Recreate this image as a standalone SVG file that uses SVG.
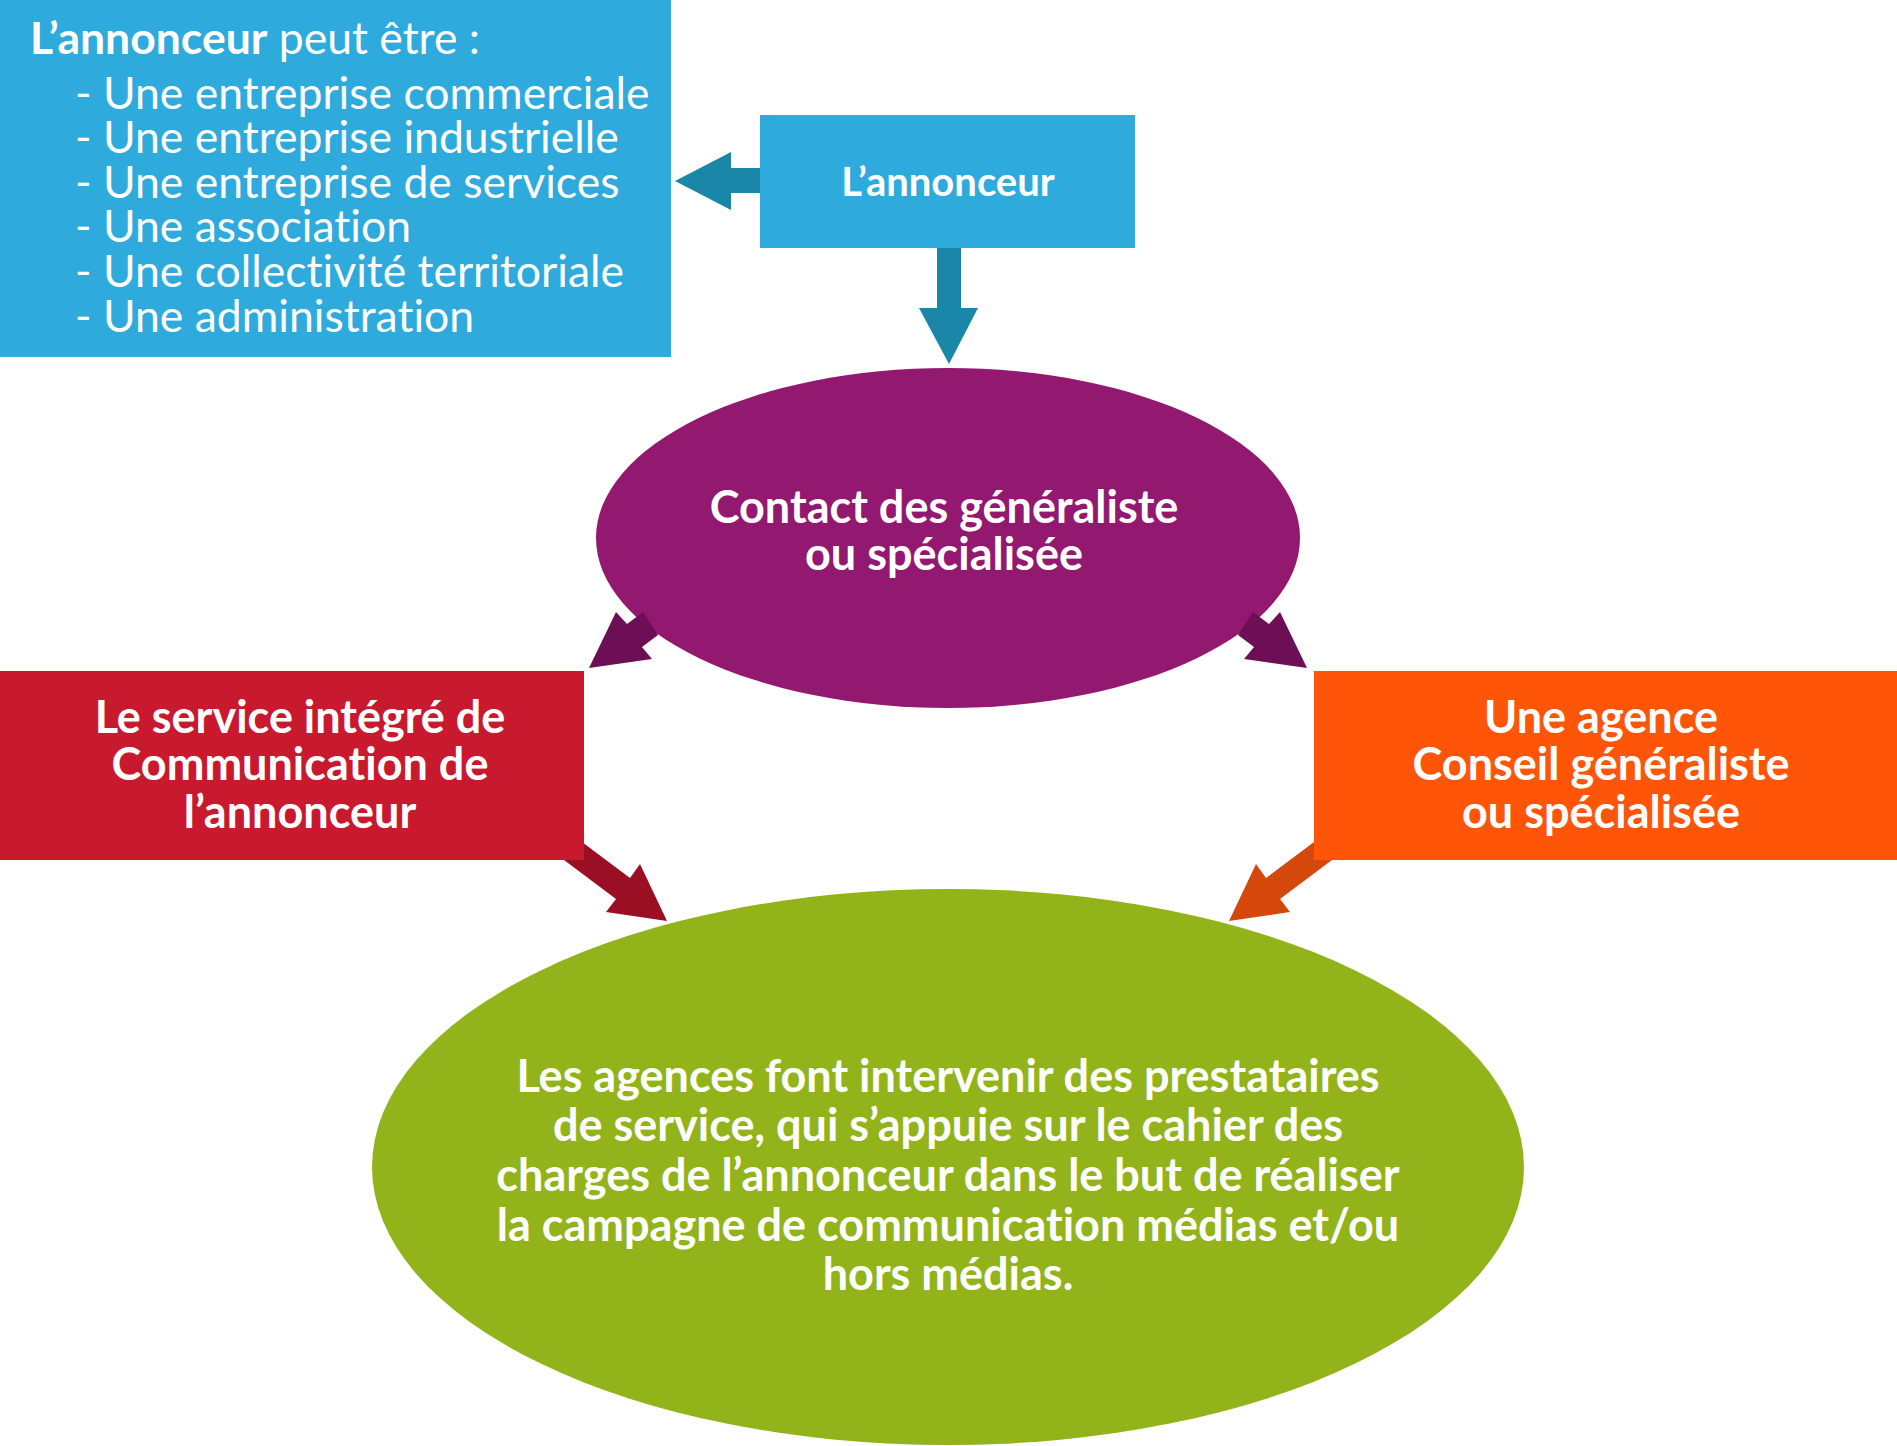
<svg xmlns="http://www.w3.org/2000/svg" width="1897" height="1446" viewBox="0 0 1897 1446">
<style>
text{font-family:Lato,"Open Sans","Liberation Sans",sans-serif;fill:#ffffff;font-size:45px;font-variant-ligatures:none;font-feature-settings:"liga" 0,"clig" 0}
.b{font-weight:bold}
.c{text-anchor:middle}
.l{font-size:44.5px}
</style>
<rect width="1897" height="1446" fill="#ffffff"/>
<g id="node-result">
<ellipse cx="948" cy="1167" rx="576" ry="278" fill="#92b41a"/>
<text class="b c" x="948" y="1092">Les agences font intervenir des prestataires</text>
<text class="b c" x="948" y="1141">de service, qui s’appuie sur le cahier des</text>
<text class="b c" x="948" y="1191">charges de l’annonceur dans le but de réaliser</text>
<text class="b c" x="948" y="1241">la campagne de communication médias et/ou</text>
<text class="b c" x="948" y="1290">hors médias.</text>
</g>
<g id="node-contact">
<ellipse cx="948" cy="538" rx="352" ry="170" fill="#931870"/>
<text class="b c" x="944" y="523">Contact des généraliste</text>
<text class="b c" x="944" y="570">ou spécialisée</text>
</g>
<g id="connectors">
<polygon fill="#1b87a8" points="675,181 731,152 731,168 762,168 762,193 731,193 731,210"/>
<polygon fill="#1b87a8" points="949,364 919,308 937,308 937,246 961,246 961,308 978,308"/>
<polygon fill="#6c0f57" points="589,668 616,612 627,624 643,612 658,635 642,647 652,659"/>
<polygon fill="#6c0f57" points="1307,668 1280,612 1269,624 1253,612 1238,635 1254,647 1244,659"/>
<polygon fill="#9b0f25" points="667,921 640,864 630,878 578,839 564,860 616,899 606,912"/>
<polygon fill="#d4480b" points="1229,921 1256,864 1266,878 1318,839 1332,860 1280,899 1290,912"/>
</g>
<g id="node-list">
<rect x="0" y="0" width="671" height="357" fill="#2eabdc"/>
<text class="l" x="30" y="54"><tspan class="b">L’annonceur</tspan> peut être :</text>
<text class="l" x="75" y="109">- Une entreprise commerciale</text>
<text class="l" x="75" y="153">- Une entreprise industrielle</text>
<text class="l" x="75" y="198">- Une entreprise de services</text>
<text class="l" x="75" y="242">- Une association</text>
<text class="l" x="75" y="287">- Une collectivité territoriale</text>
<text class="l" x="75" y="332">- Une administration</text>
</g>
<g id="node-annonceur">
<rect x="760" y="115" width="375" height="133" fill="#2eabdc"/>
<text class="b c" x="948" y="196" style="font-size:40px">L’annonceur</text>
</g>
<g id="node-service">
<rect x="0" y="671" width="584" height="189" fill="#c8192e"/>
<text class="b c" x="300" y="733">Le service intégré de</text>
<text class="b c" x="300" y="780">Communication de</text>
<text class="b c" x="300" y="828">l’annonceur</text>
</g>
<g id="node-agence">
<rect x="1314" y="671" width="583" height="189" fill="#fe5509"/>
<text class="b c" x="1601" y="733">Une agence</text>
<text class="b c" x="1601" y="780">Conseil généraliste</text>
<text class="b c" x="1601" y="828">ou spécialisée</text>
</g>
</svg>
